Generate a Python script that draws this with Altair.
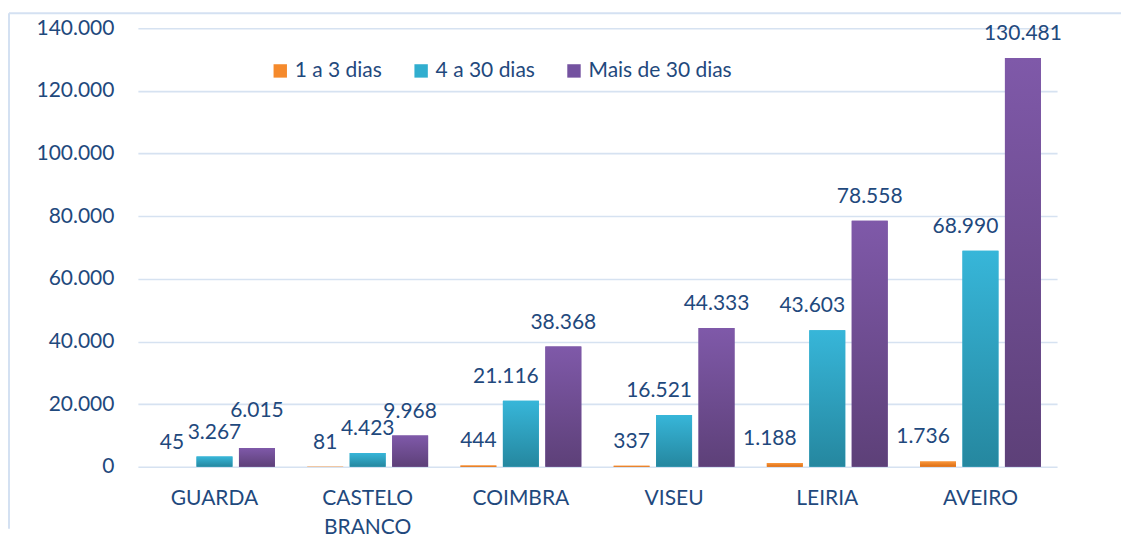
import altair as alt
import pandas as pd

categorias = ["GUARDA", "CASTELO BRANCO", "COIMBRA", "VISEU", "LEIRIA", "AVEIRO"]
series = ["1 a 3 dias", "4 a 30 dias", "Mais de 30 dias"]
v_1a3 = [45, 81, 444, 337, 1188, 1736]
v_4a30 = [3267, 4423, 21116, 16521, 43603, 68990]
v_mais30 = [6015, 9968, 38368, 44333, 78558, 130481]
y_ticks = [0, 20000, 40000, 60000, 80000, 100000, 120000, 140000]

rows = []
for s, vals in zip(series, [v_1a3, v_4a30, v_mais30]):
    for c, v in zip(categorias, vals):
        rows.append({"regiao": c, "serie": s, "valor": v})
df = pd.DataFrame(rows)

TXT = "#1F497D"
FONT = "Lato"
W, H = 920, 439

flat = ["#F58A2C", "#31AECF", "#7452A0"]
grads = [
    ("#F9973C", "#DC6C12"),
    ("#37B6D9", "#25879F"),
    ("#7F59A9", "#5D4078"),
]

base = alt.Chart(df).encode(
    x=alt.X(
        "regiao:N",
        sort=categorias,
        title=None,
        scale=alt.Scale(paddingInner=0.211, paddingOuter=0.1055),
        axis=alt.Axis(
            labelAngle=0,
            ticks=False,
            domain=False,
            labelPadding=21,
            labelExpr="split(datum.label, ' ')",
            labelLineHeight=29,
        ),
    ),
    xOffset=alt.XOffset(
        "serie:N",
        sort=series,
        scale=alt.Scale(domain=series, paddingInner=0.153, paddingOuter=0),
    ),
    y=alt.Y(
        "valor:Q",
        title=None,
        scale=alt.Scale(domain=[0, 140000], nice=False),
        axis=alt.Axis(
            values=y_ticks,
            format=",d",
            ticks=False,
            domain=False,
            labelPadding=24,
            gridColor="#D6E2F1",
            gridWidth=1.6,
        ),
    ),
)

bars = base.mark_bar().encode(
    color=alt.Color(
        "serie:N",
        sort=series,
        scale=alt.Scale(domain=series, range=flat),
        legend=alt.Legend(
            title=None,
            orient="none",
            legendX=132,
            legendY=32,
            direction="horizontal",
            symbolType="square",
            symbolSize=180,
            symbolStrokeWidth=0,
            labelFont=FONT,
            labelFontSize=21,
            labelColor=TXT,
            labelOffset=4,
            columnPadding=28,
        ),
    )
)

grad_layers = []
for s, (top, bot) in zip(series, grads):
    g = alt.LinearGradient(
        gradient="linear",
        stops=[alt.GradientStop(color=top, offset=0), alt.GradientStop(color=bot, offset=1)],
        x1=0, x2=0, y1=0, y2=1,
    )
    grad_layers.append(base.transform_filter(alt.datum.serie == s).mark_bar(color=g))

txt_kw = dict(baseline="alphabetic", align="center", font=FONT, fontSize=21, color=TXT)
txt_enc = dict(text=alt.Text("valor:Q", format=",d"))

is_left = ("(datum.serie == '1 a 3 dias' && datum.valor > 1000) || "
           "(datum.serie == '4 a 30 dias' && datum.valor > 10000)")
is_raised = "datum.serie == 'Mais de 30 dias' && datum.regiao == 'GUARDA'"

labels = base.transform_filter(f"!({is_left}) && !({is_raised})").mark_text(dy=-18, **txt_kw).encode(**txt_enc)
labels_left = base.transform_filter(is_left).mark_text(dy=-18, dx=-15, **txt_kw).encode(**txt_enc)
labels_up = base.transform_filter(is_raised).mark_text(dy=-31, **txt_kw).encode(**txt_enc)

one = alt.Chart(pd.DataFrame({"k": [0]}))
border_left = one.mark_rule(color="#D4E1F2", strokeWidth=2).encode(
    x=alt.value(-129), y=alt.value(-15), y2=alt.value(H + 62)
)
border_top = one.mark_rule(color="#D4E1F2", strokeWidth=2).encode(
    x=alt.value(-129), x2=alt.value(W + 64), y=alt.value(-15)
)

chart = (
    alt.layer(border_left, border_top, bars, *grad_layers, labels, labels_left, labels_up)
    .properties(width=W, height=H, padding={"left": 0, "top": 4, "right": 0, "bottom": 0})
    .configure(locale={"number": {"decimal": ",", "thousands": ".", "grouping": [3], "currency": ["", " €"]}})
    .configure_view(stroke=None)
    .configure_axis(labelFont=FONT, labelFontSize=21, labelColor=TXT)
)

chart.save("out.html", embed_options={"renderer": "svg", "actions": False})
